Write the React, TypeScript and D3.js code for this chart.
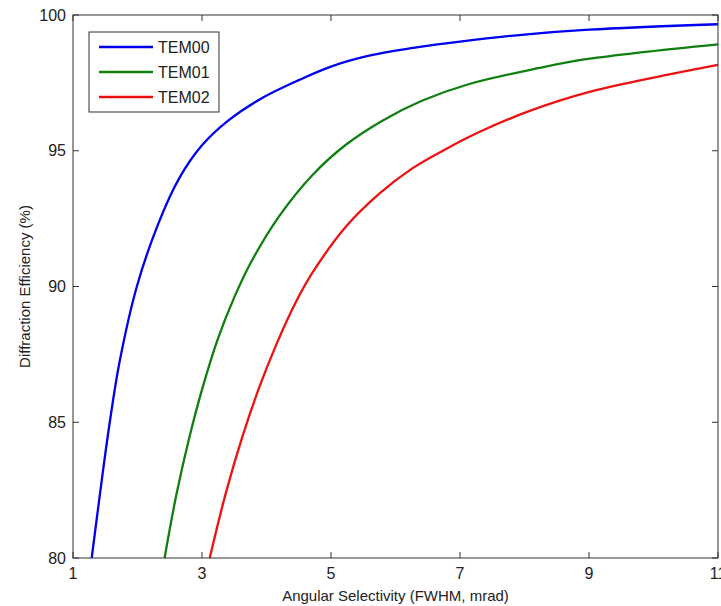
import React, { useEffect, useRef } from 'react';
import * as d3 from 'd3';

const tem00X = [1.29, 1.47, 1.57, 1.72, 1.99, 2.32, 2.65, 3.0, 3.4, 3.9, 4.5, 5.0, 5.59, 6.3, 7.0, 8.0, 9.0, 11];
const tem00Y = [80, 83.3, 85, 87.2, 90, 92.3, 94.0, 95.2, 96.1, 96.9, 97.6, 98.1, 98.5, 98.8, 99.02, 99.28, 99.46, 99.66];

const tem01X = [2.42, 2.6, 2.8, 3.0, 3.25, 3.5, 3.75, 4.2, 4.71, 5.23, 5.79, 6.4, 7.13, 8.21, 8.98, 11];
const tem01Y = [80, 82.3, 84.4, 86.2, 88.1, 89.6, 90.85, 92.6, 94.1, 95.22, 96.1, 96.83, 97.45, 98.04, 98.38, 98.92];

const tem02X = [3.12, 3.37, 3.63, 3.89, 4.15, 4.45, 4.71, 5.23, 5.74, 6.26, 6.77, 7.29, 8.06, 8.98, 11];
const tem02Y = [80, 82.4, 84.5, 86.3, 87.85, 89.4, 90.5, 92.2, 93.4, 94.35, 95.05, 95.68, 96.45, 97.15, 98.16];

const seriesNames = ['TEM00', 'TEM01', 'TEM02'];
const seriesColors = ['#0000f0', '#0f800f', '#ee1111'];

const xTicks = [1, 3, 5, 7, 9, 11];
const yTicks = [80, 85, 90, 95, 100];

const xLabel = 'Angular Selectivity (FWHM, mrad)';
const yLabel = 'Diffraction Efficiency (%)';

const App = () => {
  const svgRef = useRef<SVGSVGElement>(null);

  useEffect(() => {
    const width = 721;
    const height = 606;
    const margin = { top: 15, right: 3, bottom: 48, left: 73 };
    const font = '"Liberation Sans", Arial, sans-serif';
    const axisColor = '#333';

    svgRef.current!.innerHTML = '';

    const svg = d3.select(svgRef.current)
      .attr('width', width)
      .attr('height', height);

    const x = d3.scaleLinear().domain([1, 11]).range([margin.left, width - margin.right]);
    const y = d3.scaleLinear().domain([80, 100]).range([height - margin.bottom, margin.top]);

    const series = [
      tem00X.map((v, i) => [v, tem00Y[i]]),
      tem01X.map((v, i) => [v, tem01Y[i]]),
      tem02X.map((v, i) => [v, tem02Y[i]]),
    ];

    const line = d3.line<number[]>()
      .x(d => x(d[0]))
      .y(d => y(d[1]))
      .curve(d3.curveCatmullRom.alpha(0.5));

    svg.append('g')
      .selectAll('path')
      .data(series)
      .enter().append('path')
      .attr('d', d => line(d))
      .attr('fill', 'none')
      .attr('stroke', (d, i) => seriesColors[i])
      .attr('stroke-width', 2.3);

    // frame
    svg.append('rect')
      .attr('x', x(1))
      .attr('y', y(100))
      .attr('width', x(11) - x(1))
      .attr('height', y(80) - y(100))
      .attr('fill', 'none')
      .attr('stroke', axisColor)
      .attr('stroke-width', 1);

    const tickLen = 6;
    const tickStyle = (g: any) => g.attr('stroke', axisColor).attr('stroke-width', 1);

    const xt = svg.append('g');
    xTicks.forEach(t => {
      tickStyle(xt.append('line').attr('x1', x(t)).attr('x2', x(t)).attr('y1', y(80)).attr('y2', y(80) - tickLen));
      tickStyle(xt.append('line').attr('x1', x(t)).attr('x2', x(t)).attr('y1', y(100)).attr('y2', y(100) + tickLen));
    });
    xt.selectAll('text')
      .data(xTicks)
      .enter().append('text')
      .attr('x', d => x(d))
      .attr('y', y(80) + 21)
      .attr('text-anchor', 'middle')
      .attr('font-family', font)
      .attr('font-size', 16)
      .attr('fill', '#222')
      .text(d => d);

    const yt = svg.append('g');
    yTicks.forEach(t => {
      tickStyle(yt.append('line').attr('x1', x(1)).attr('x2', x(1) + tickLen).attr('y1', y(t)).attr('y2', y(t)));
      tickStyle(yt.append('line').attr('x1', x(11)).attr('x2', x(11) - tickLen).attr('y1', y(t)).attr('y2', y(t)));
    });
    yt.selectAll('text')
      .data(yTicks)
      .enter().append('text')
      .attr('x', x(1) - 7)
      .attr('y', d => y(d))
      .attr('dy', '0.35em')
      .attr('text-anchor', 'end')
      .attr('font-family', font)
      .attr('font-size', 16)
      .attr('fill', '#222')
      .text(d => d);

    svg.append('text')
      .attr('x', (x(1) + x(11)) / 2)
      .attr('y', height - 5)
      .attr('text-anchor', 'middle')
      .attr('font-family', font)
      .attr('font-size', 15)
      .attr('fill', '#222')
      .text(xLabel);

    svg.append('text')
      .attr('transform', `translate(30, ${(y(80) + y(100)) / 2}) rotate(-90)`)
      .attr('text-anchor', 'middle')
      .attr('font-family', font)
      .attr('font-size', 15)
      .attr('fill', '#222')
      .text(yLabel);

    // legend
    const lg = svg.append('g').attr('transform', `translate(${x(1) + 16}, ${y(100) + 17})`);
    lg.append('rect')
      .attr('width', 130)
      .attr('height', 80)
      .attr('fill', '#fff')
      .attr('stroke', axisColor)
      .attr('stroke-width', 1);
    seriesNames.forEach((name, i) => {
      const row = 15 + i * 25;
      lg.append('line')
        .attr('x1', 10).attr('x2', 64)
        .attr('y1', row).attr('y2', row)
        .attr('stroke', seriesColors[i])
        .attr('stroke-width', 2.3);
      lg.append('text')
        .attr('x', 69)
        .attr('y', row)
        .attr('dy', '0.35em')
        .attr('font-family', font)
        .attr('font-size', 16)
        .attr('fill', '#222')
        .text(name);
    });
  }, []);

  return (
    <svg ref={svgRef} style={{ position: 'absolute', left: 0, top: 0, background: '#fff' }}></svg>
  );
};

export default App;
